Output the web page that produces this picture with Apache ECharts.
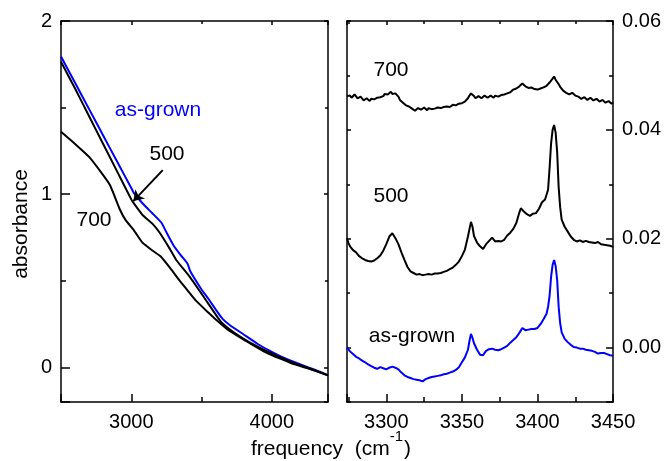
<!DOCTYPE html>
<html><head><meta charset="utf-8">
<script src="https://cdn.jsdelivr.net/npm/echarts@6/dist/echarts.min.js"></script>
<style>html,body{margin:0;padding:0;background:#fff}#c{width:664px;height:461px}</style>
</head><body><div id="c"></div>
<script>
// ---- Left panel (broad absorbance) ----
const asGrownLX = [2500,2600,2700,2800,2900,3000,3021,3050,3100,3150,3215,3250,3300,3350,3400,3420,3500,3550,3600,3650,3700,3800,3900,4000,4100,4200,4300,4400];
const asGrownLY = [1.795,1.643,1.491,1.339,1.187,1.036,1.004,0.975,0.93,0.89,0.835,0.78,0.705,0.65,0.60,0.555,0.45,0.395,0.335,0.28,0.245,0.19,0.135,0.09,0.05,0.018,-0.012,-0.045];
const a500LX = [2500,2600,2700,2800,2900,3000,3020,3080,3150,3200,3270,3320,3414,3530,3630,3700,3800,3900,4000,4100,4200,4300,4400];
const a500LY = [1.765,1.61,1.45,1.29,1.13,0.97,0.945,0.88,0.83,0.78,0.69,0.62,0.525,0.39,0.272,0.22,0.165,0.12,0.08,0.045,0.013,-0.015,-0.046];
const a700LX = [2500,2600,2700,2800,2850,2920,2960,3020,3080,3150,3210,3280,3340,3400,3460,3550,3610,3680,3800,3870,3950,4060,4150,4250,4400];
const a700LY = [1.36,1.29,1.215,1.11,1.05,0.91,0.85,0.79,0.72,0.675,0.64,0.57,0.505,0.445,0.385,0.315,0.27,0.222,0.16,0.127,0.09,0.05,0.02,-0.004,-0.046];
const arrowFrom = [3224, 1.139];
const arrowTo = [3015, 0.96];

// ---- Right panel (sharp lines) ----
const r700X = [3274,3275,3276,3277,3278,3279,3280,3281,3282,3283,3284,3285,3286,3287,3288,3289,3290,3291,3292,3293,3294,3295,3296,3297,3298,3299,3300,3301,3302,3303,3304,3305,3306,3307,3308,3309,3310,3311,3312,3313,3314,3315,3316,3317,3318,3319,3320,3321,3322,3323,3324,3325,3326,3327,3328,3329,3330,3331,3332,3333,3334,3335,3336,3337,3338,3339,3340,3341,3342,3343,3344,3345,3346,3347,3348,3349,3350,3351,3352,3353,3354,3355,3356,3357,3358,3359,3360,3361,3362,3363,3364,3365,3366,3367,3368,3369,3370,3371,3372,3373,3374,3375,3376,3377,3378,3379,3380,3381,3382,3383,3384,3385,3386,3387,3388,3389,3390,3391,3392,3393,3394,3395,3396,3397,3398,3399,3400,3401,3402,3403,3404,3405,3406,3407,3408,3409,3410,3411,3412,3413,3414,3415,3416,3417,3418,3419,3420,3421,3422,3423,3424,3425,3426,3427,3428,3429,3430,3431,3432,3433,3434,3435,3436,3437,3438,3439,3440,3441,3442,3443,3444,3445,3446,3447,3448,3449,3450];
const r700Y = [0.0462,0.0465,0.0463,0.0459,0.0461,0.0465,0.0463,0.0458,0.0459,0.0461,0.0458,0.0454,0.0456,0.0458,0.0455,0.0453,0.0457,0.0459,0.0456,0.0455,0.0459,0.0462,0.0460,0.0459,0.0462,0.0466,0.0464,0.0465,0.0468,0.0470,0.0466,0.0465,0.0467,0.0464,0.0461,0.0455,0.0452,0.0450,0.0448,0.0445,0.0444,0.0443,0.0441,0.0439,0.0438,0.0435,0.0437,0.0440,0.0439,0.0437,0.0440,0.0441,0.0438,0.0436,0.0440,0.0441,0.0438,0.0436,0.0439,0.0442,0.0441,0.0438,0.0440,0.0443,0.0442,0.0440,0.0443,0.0445,0.0442,0.0443,0.0446,0.0448,0.0445,0.0446,0.0448,0.0451,0.0449,0.0450,0.0452,0.0455,0.0458,0.0463,0.0467,0.0465,0.0462,0.0458,0.0459,0.0462,0.0461,0.0458,0.0460,0.0463,0.0462,0.0459,0.0460,0.0463,0.0461,0.0459,0.0463,0.0465,0.0461,0.0462,0.0464,0.0467,0.0465,0.0464,0.0467,0.0470,0.0469,0.0471,0.0474,0.0472,0.0476,0.0479,0.0480,0.0483,0.0485,0.0482,0.0480,0.0478,0.0477,0.0480,0.0478,0.0475,0.0475,0.0477,0.0474,0.0473,0.0476,0.0478,0.0478,0.0480,0.0481,0.0484,0.0487,0.0490,0.0494,0.0498,0.0492,0.0488,0.0484,0.0479,0.0476,0.0472,0.0470,0.0468,0.0467,0.0465,0.0466,0.0468,0.0466,0.0463,0.0463,0.0461,0.0459,0.0457,0.0458,0.0460,0.0457,0.0455,0.0458,0.0459,0.0457,0.0454,0.0456,0.0457,0.0455,0.0452,0.0454,0.0455,0.0452,0.0450,0.0451,0.0453,0.0450,0.0448,0.0450];
const r500X = [3274,3275,3276,3278,3280,3282,3284,3286,3288,3290,3292,3294,3296,3298,3300,3302,3304,3306,3308,3310,3312,3314,3316,3318,3320,3322,3324,3326,3328,3330,3332,3334,3336,3338,3340,3342,3344,3346,3348,3350,3352,3354,3356,3357,3358,3360,3362,3364,3366,3368,3370,3372,3374,3376,3378,3380,3382,3384,3386,3388,3389,3391,3393,3395,3397,3399,3401,3403,3405,3407,3408,3409,3410,3411,3412,3413,3414,3415,3416,3418,3420,3422,3424,3426,3428,3430,3432,3434,3436,3438,3440,3442,3444,3446,3448,3450];
const r500Y = [0.0201,0.0192,0.0186,0.0179,0.0175,0.0168,0.0164,0.0161,0.0159,0.0158,0.0160,0.0164,0.0169,0.0178,0.0190,0.0204,0.0210,0.0201,0.0190,0.0175,0.0161,0.0148,0.0140,0.0137,0.0134,0.0135,0.0133,0.0134,0.0135,0.0134,0.0136,0.0136,0.0137,0.0139,0.0141,0.0144,0.0147,0.0152,0.0158,0.0168,0.0180,0.0204,0.0231,0.0222,0.0205,0.0193,0.0186,0.0181,0.0190,0.0196,0.0202,0.0195,0.0196,0.0195,0.0198,0.0206,0.0211,0.0218,0.0229,0.0248,0.0256,0.0250,0.0245,0.0242,0.0246,0.0247,0.0255,0.0267,0.0272,0.0290,0.0330,0.0375,0.0400,0.0409,0.0395,0.0360,0.0295,0.0258,0.0235,0.0222,0.0213,0.0204,0.0198,0.0195,0.0197,0.0194,0.0196,0.0194,0.0193,0.0192,0.0194,0.0190,0.0189,0.0188,0.0187,0.0185];
const rAsGrownX = [3274,3276,3278,3280,3282,3284,3286,3288,3290,3292,3294,3296,3297,3298,3300,3302,3304,3306,3308,3310,3312,3314,3316,3318,3320,3322,3324,3326,3328,3330,3332,3334,3336,3338,3340,3342,3344,3346,3348,3350,3352,3354,3355,3356,3357,3358,3360,3362,3364,3366,3368,3370,3372,3374,3376,3378,3380,3382,3384,3386,3388,3390,3392,3394,3396,3398,3400,3402,3404,3406,3407,3408,3409,3410,3411,3412,3413,3414,3415,3416,3418,3420,3422,3424,3426,3428,3430,3432,3434,3436,3438,3440,3442,3444,3446,3448,3450];
const rAsGrownY = [0.0000,-0.0007,-0.0012,-0.0017,-0.0020,-0.0024,-0.0027,-0.0031,-0.0034,-0.0037,-0.0039,-0.0036,-0.0033,-0.0038,-0.0040,-0.0037,-0.0035,-0.0037,-0.0040,-0.0046,-0.0051,-0.0054,-0.0056,-0.0058,-0.0059,-0.0060,-0.0062,-0.0058,-0.0056,-0.0054,-0.0053,-0.0052,-0.0051,-0.0049,-0.0048,-0.0046,-0.0044,-0.0041,-0.0036,-0.0027,-0.0018,-0.0004,0.0012,0.0025,0.0018,0.0008,-0.0004,-0.0013,-0.0014,-0.0006,-0.0003,-0.0002,-0.0004,-0.0005,-0.0003,0.0000,0.0003,0.0009,0.0014,0.0019,0.0027,0.0036,0.0032,0.0033,0.0034,0.0034,0.0036,0.0043,0.0052,0.0062,0.0075,0.0095,0.0130,0.0152,0.0161,0.0150,0.0125,0.0075,0.0045,0.0028,0.0016,0.0010,0.0005,0.0001,0.0000,-0.0002,-0.0002,-0.0004,-0.0005,-0.0006,-0.0008,-0.0011,-0.0010,-0.0010,-0.0012,-0.0014,-0.0015];

const zip = (xs, ys) => xs.map((x, i) => [x, ys[i]]);
const FONT = 'Liberation Sans';
const BLUE = '#0000ff';
const BLACK = '#000000';

const line = { show: true, onZero: false, lineStyle: { color: BLACK, width: 1.5 } };
function tick(len) { return { show: true, inside: true, length: len, lineStyle: { color: BLACK, width: 1.5 } }; }
function minor(len) { return { show: true, splitNumber: 2, length: len, lineStyle: { color: BLACK, width: 1.5 } }; }
const lbl = (fmt, margin) => ({ show: true, color: BLACK, fontFamily: FONT, fontSize: 20, margin: margin, formatter: fmt });
const noLbl = { show: false };

const fmtLX = v => (Math.abs(v % 1000) < 1e-6 ? String(v) : '');
const fmtLY = v => (Math.abs(v - Math.round(v)) < 1e-9 ? String(Math.round(v)) : '');
const fmtRX = v => (Math.abs(v % 50) < 1e-6 ? String(v) : '');
const fmtRY = v => { const k = Math.round(v * 100); return (v > -1e-9 && Math.abs(v * 100 - k) < 1e-6 && k % 2 === 0) ? v.toFixed(2) : ''; };

const LX = { min: 2500, max: 4400, splitNumber: 2 };
const LY = { min: -0.2, max: 2, splitNumber: 2 };
const RX = { min: 3274, max: 3450, splitNumber: 4 };
const RY = { min: -0.01, max: 0.06, splitNumber: 4 };

// x-axis title layout (measured so the superscript sits right after "cm")
const ctx = document.createElement('canvas').getContext('2d');
const mainFont = '21px "Liberation Sans"', supFont = '15px "Liberation Sans"';
ctx.font = mainFont; const w1 = ctx.measureText('frequency  (cm').width; const w3 = ctx.measureText(')').width;
ctx.font = supFont; const w2 = ctx.measureText('-1').width + 1;
const titleX0 = 331 - (w1 + w2 + w3) / 2;

const option = {
  animation: false,
  backgroundColor: '#ffffff',
  grid: [
    { left: 61, top: 21, width: 267, height: 381 },
    { left: 347, top: 21, width: 267, height: 381 }
  ],
  xAxis: [
    Object.assign({ type: 'value', gridIndex: 0, position: 'bottom', axisLine: line, axisTick: tick(8), minorTick: minor(5), axisLabel: lbl(fmtLX, 10), splitLine: { show: false } }, LX),
    Object.assign({ type: 'value', gridIndex: 0, position: 'top', axisLine: line, axisTick: tick(4), minorTick: minor(3), axisLabel: noLbl, splitLine: { show: false } }, LX),
    Object.assign({ type: 'value', gridIndex: 1, position: 'bottom', axisLine: line, axisTick: tick(8), minorTick: minor(5), axisLabel: lbl(fmtRX, 10), splitLine: { show: false } }, RX),
    Object.assign({ type: 'value', gridIndex: 1, position: 'top', axisLine: line, axisTick: tick(4), minorTick: minor(3), axisLabel: noLbl, splitLine: { show: false } }, RX)
  ],
  yAxis: [
    Object.assign({ type: 'value', gridIndex: 0, position: 'left', axisLine: line, axisTick: tick(9), minorTick: minor(5), axisLabel: lbl(fmtLY, 9), splitLine: { show: false } }, LY),
    Object.assign({ type: 'value', gridIndex: 0, position: 'right', axisLine: line, axisTick: tick(4), minorTick: minor(3), axisLabel: noLbl, splitLine: { show: false } }, LY),
    Object.assign({ type: 'value', gridIndex: 1, position: 'right', axisLine: line, axisTick: tick(7), minorTick: minor(4), axisLabel: lbl(fmtRY, 9), splitLine: { show: false } }, RY),
    Object.assign({ type: 'value', gridIndex: 1, position: 'left', axisLine: line, axisTick: tick(4), minorTick: minor(3), axisLabel: noLbl, splitLine: { show: false } }, RY)
  ],
  series: [
    { name: 'as-grown', type: 'line', xAxisIndex: 0, yAxisIndex: 0, data: zip(asGrownLX, asGrownLY), symbol: 'none', smooth: 0.15, lineStyle: { color: BLUE, width: 2 }, z: 3 },
    { name: '500', type: 'line', xAxisIndex: 0, yAxisIndex: 0, data: zip(a500LX, a500LY), symbol: 'none', smooth: 0.15, lineStyle: { color: BLACK, width: 2 },
      markLine: { silent: true, animation: false, symbol: ['none', 'arrow'], symbolSize: 10, label: { show: false }, lineStyle: { color: BLACK, width: 2, type: 'solid' },
        data: [[{ coord: arrowFrom }, { coord: arrowTo }]] } },
    { name: '700', type: 'line', xAxisIndex: 0, yAxisIndex: 0, data: zip(a700LX, a700LY), symbol: 'none', smooth: 0.15, lineStyle: { color: BLACK, width: 2 } },
    { name: '700 r', type: 'line', xAxisIndex: 2, yAxisIndex: 2, data: zip(r700X, r700Y), symbol: 'none', lineStyle: { color: BLACK, width: 2 } },
    { name: '500 r', type: 'line', xAxisIndex: 2, yAxisIndex: 2, data: zip(r500X, r500Y), symbol: 'none', lineStyle: { color: BLACK, width: 2 } },
    { name: 'as-grown r', type: 'line', xAxisIndex: 2, yAxisIndex: 2, data: zip(rAsGrownX, rAsGrownY), symbol: 'none', lineStyle: { color: BLUE, width: 2 } }
  ],
  graphic: [
    { type: 'text', x: 158, y: 110, style: { text: 'as-grown', fill: BLUE, font: mainFont, align: 'center', verticalAlign: 'middle' } },
    { type: 'text', x: 167, y: 154, style: { text: '500', fill: BLACK, font: mainFont, align: 'center', verticalAlign: 'middle' } },
    { type: 'text', x: 94, y: 220, style: { text: '700', fill: BLACK, font: mainFont, align: 'center', verticalAlign: 'middle' } },
    { type: 'text', x: 391, y: 70, style: { text: '700', fill: BLACK, font: mainFont, align: 'center', verticalAlign: 'middle' } },
    { type: 'text', x: 391, y: 196, style: { text: '500', fill: BLACK, font: mainFont, align: 'center', verticalAlign: 'middle' } },
    { type: 'text', x: 412, y: 336, style: { text: 'as-grown', fill: BLACK, font: mainFont, align: 'center', verticalAlign: 'middle' } },
    { type: 'text', x: 21, y: 224, rotation: Math.PI / 2, style: { text: 'absorbance', fill: BLACK, font: mainFont, align: 'center', verticalAlign: 'middle' } },
    { type: 'text', x: titleX0, y: 449, style: { text: 'frequency  (cm', fill: BLACK, font: mainFont, align: 'left', verticalAlign: 'middle' } },
    { type: 'text', x: titleX0 + w1, y: 437, style: { text: '-1', fill: BLACK, font: supFont, align: 'left', verticalAlign: 'middle' } },
    { type: 'text', x: titleX0 + w1 + w2, y: 449, style: { text: ')', fill: BLACK, font: mainFont, align: 'left', verticalAlign: 'middle' } }
  ]
};
const chart = echarts.init(document.getElementById('c'));
chart.setOption(option);
</script>
</body></html>
